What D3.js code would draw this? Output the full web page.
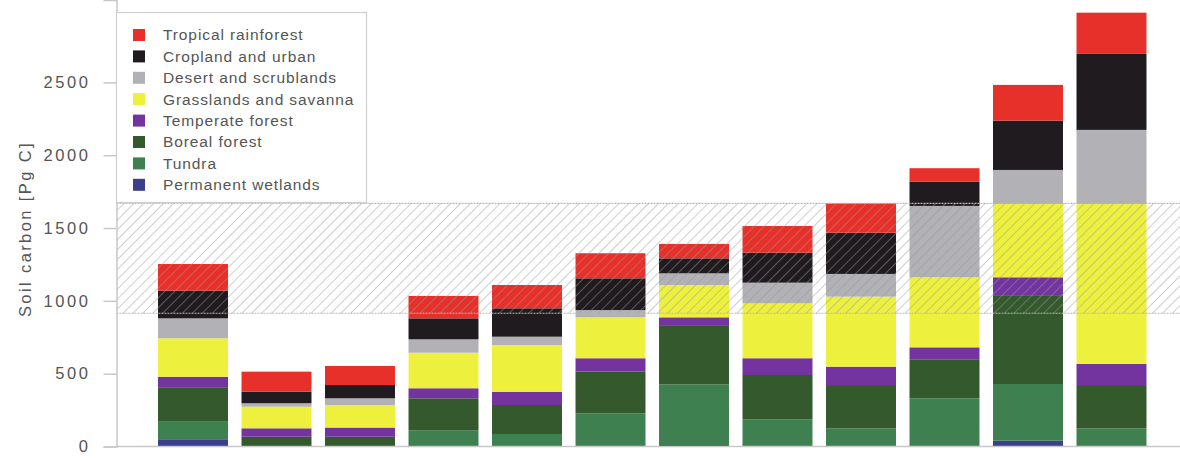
<!DOCTYPE html>
<html>
<head>
<meta charset="utf-8">
<script src="https://cdn.jsdelivr.net/npm/d3@7"></script>
<style>
  html, body { margin: 0; padding: 0; background: #fff; }
  svg { display: block; font-family: "Liberation Sans", Arial, sans-serif; }
</style>
</head>
<body>
<svg id="chart" width="1180" height="461"></svg>
<script>
// Soil carbon stocks per estimate, split by biome (Pg C)
const estimates = ["E1","E2","E3","E4","E5","E6","E7","E8","E9","E10","E11","E12"];

// Stacking order, bottom to top
const biomes = [
  "Permanent wetlands", "Tundra", "Boreal forest", "Temperate forest",
  "Grasslands and savanna", "Desert and scrublands", "Cropland and urban", "Tropical rainforest"
];
const biomeColors = ["#3b3f8c", "#3f8050", "#34592d", "#7434a0", "#eef03e", "#b1b1b6", "#1f1b1e", "#e8302a"];

const permanentWetlands = [45, 0, 0, 0, 0, 0, 10, 0, 0, 0, 40, 0];
const tundra            = [125, 0, 0, 109, 86, 228, 417, 187, 125, 331, 389, 125];
const borealForest      = [237, 67, 67, 222, 199, 286, 401, 304, 297, 268, 605, 297];
const temperateForest   = [72, 58, 63, 69, 91, 92, 59, 115, 126, 82, 128, 145];
const grasslands        = [264, 148, 155, 244, 321, 281, 222, 377, 481, 481, 503, 1098];
const desert            = [137, 24, 46, 92, 57, 50, 80, 142, 156, 490, 234, 509];
const cropland          = [190, 79, 91, 144, 195, 218, 103, 206, 283, 167, 339, 522];
const tropicalForest    = [183, 138, 131, 154, 160, 172, 99, 183, 202, 92, 245, 283];

// Range of a reference estimate, drawn as a hatched band
const referenceRange = [915, 1670];

const yTicks = [0, 500, 1000, 1500, 2000, 2500];
const yTitle = "Soil carbon [Pg C]";

const seriesValues = [permanentWetlands, tundra, borealForest, temperateForest,
                      grasslands, desert, cropland, tropicalForest];

const rows = estimates.map((e, i) => {
  const r = { estimate: e };
  biomes.forEach((b, k) => { r[b] = seriesValues[k][i]; });
  return r;
});

const svg = d3.select("#chart");
const axisX = 116.5, baseY = 446.5;

const x = d3.scaleBand()
  .domain(estimates)
  .range([151.25, 1153.25])
  .paddingInner(0.162)
  .paddingOuter(0.081);

const y = d3.scaleLinear()
  .domain([0, 3066])
  .range([baseY, 0]);

const color = d3.scaleOrdinal().domain(biomes).range(biomeColors);

// Hatch pattern for the reference band
const defs = svg.append("defs");
const pat = defs.append("pattern")
  .attr("id", "hatch")
  .attr("patternUnits", "userSpaceOnUse")
  .attr("width", 7).attr("height", 7)
  .attr("patternTransform", "rotate(45)");
pat.append("line")
  .attr("x1", 0).attr("y1", 0).attr("x2", 0).attr("y2", 7)
  .attr("stroke", "#9a9a9a").attr("stroke-width", 1.3).attr("stroke-opacity", 0.75);

// Stacked bars
const stack = d3.stack().keys(biomes)(rows);
svg.append("g")
  .selectAll("g")
  .data(stack)
  .join("g")
  .attr("fill", d => color(d.key))
  .selectAll("rect")
  .data(d => d)
  .join("rect")
  .attr("x", d => x(d.data.estimate))
  .attr("width", x.bandwidth())
  .attr("y", d => y(d[1]))
  .attr("height", d => y(d[0]) - y(d[1]));

// Hatched reference band on top of the bars
svg.append("rect")
  .attr("x", axisX)
  .attr("width", 1180 - axisX)
  .attr("y", y(referenceRange[1]))
  .attr("height", y(referenceRange[0]) - y(referenceRange[1]))
  .attr("fill", "url(#hatch)");
[referenceRange[0], referenceRange[1]].forEach(v => {
  svg.append("line")
    .attr("x1", axisX).attr("x2", 1180)
    .attr("y1", y(v)).attr("y2", y(v))
    .attr("stroke", "#b8b8b8").attr("stroke-width", 1.2)
    .attr("stroke-dasharray", "2,1");
});

// Y axis
const yAxis = d3.axisLeft(y).tickValues(yTicks).tickSize(13).tickPadding(11).tickFormat(d3.format("d"));
const gy = svg.append("g")
  .attr("transform", `translate(${axisX},0)`)
  .call(yAxis);
gy.select(".domain").attr("stroke", "#c8c8c8").attr("stroke-width", 1.5);
gy.selectAll(".tick line").attr("stroke", "#c8c8c8").attr("stroke-width", 1.5);
gy.selectAll(".tick text")
  .attr("fill", "#555")
  .attr("dx", "-2px")
  .style("font-size", "16.5px")
  .style("letter-spacing", "2.6px")
  .style("font-family", "'Liberation Sans', Arial, sans-serif");

// X axis baseline
svg.append("line")
  .attr("x1", axisX).attr("x2", 1180)
  .attr("y1", baseY).attr("y2", baseY)
  .attr("stroke", "#c8c8c8").attr("stroke-width", 1.5);

svg.append("text")
  .attr("transform", `translate(31,${229}) rotate(-90)`)
  .attr("text-anchor", "middle")
  .attr("fill", "#555")
  .style("font-size", "16.5px")
  .style("letter-spacing", "2.4px")
  .text(yTitle);

// Legend, top entry first
const legendItems = biomes.slice().reverse();
const legend = svg.append("g");
legend.append("rect")
  .attr("x", 116.5).attr("y", 12.5)
  .attr("width", 250).attr("height", 190)
  .attr("fill", "#fff")
  .attr("stroke", "#cfcfcf").attr("stroke-width", 1.2);
legendItems.forEach((b, i) => {
  const cy = 35 + i * 21.4;
  legend.append("rect")
    .attr("x", 133).attr("y", cy - 6)
    .attr("width", 12).attr("height", 12)
    .attr("fill", color(b));
  legend.append("text")
    .attr("x", 163).attr("y", cy)
    .attr("dy", "0.35em")
    .attr("fill", "#555")
    .style("font-size", "15.5px")
    .style("letter-spacing", "0.9px")
    .text(b);
});
</script>
</body>
</html>
